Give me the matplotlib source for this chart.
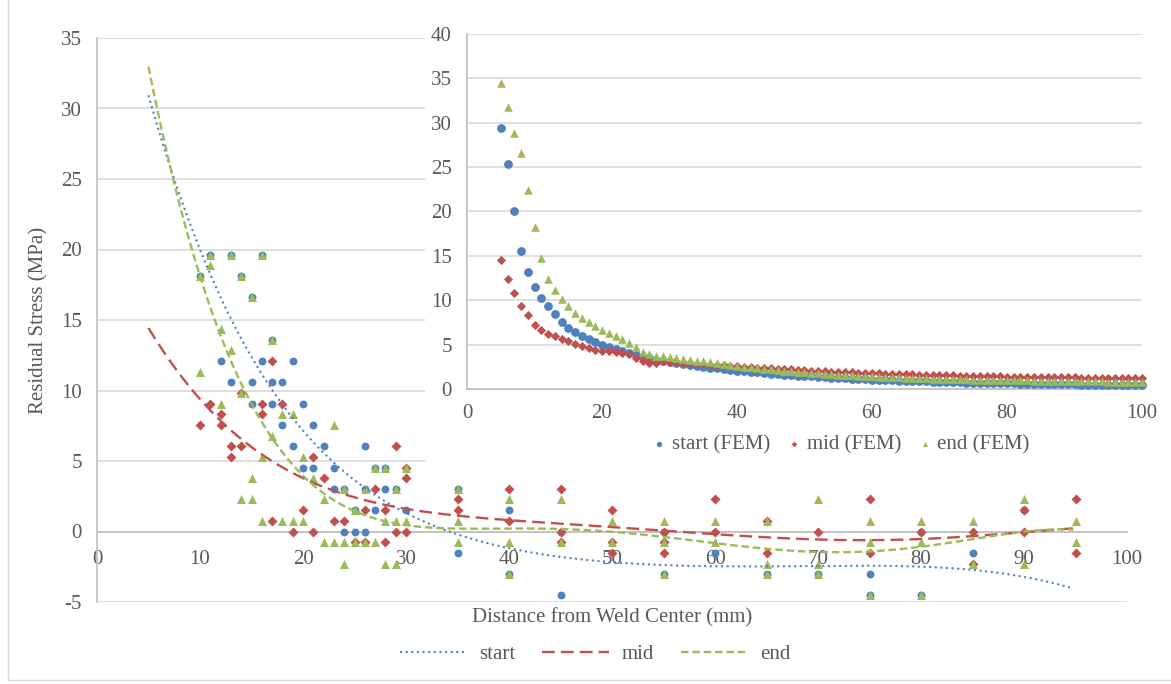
import numpy as np
import matplotlib
matplotlib.use("Agg")
import matplotlib.pyplot as plt
from matplotlib.lines import Line2D
from matplotlib.patches import Rectangle
from numpy.polynomial import Polynomial

plt.rcParams['font.family'] = ['Liberation Serif', 'DejaVu Serif']
plt.rcParams['font.size'] = 15
plt.rcParams['axes.unicode_minus'] = False

BLUE = '#4F81BD'
RED = '#C0504D'
GREEN = '#9BBB59'
TEXT = '#595959'
GRID = '#D9D9D9'
AXIS = '#BFBFBF'

# ---- measured residual stress (MPa) vs distance from weld center (mm) ----
start_x = [11, 13, 16, 10, 14, 15, 17, 12, 16, 19, 13, 15, 17, 18, 15, 17, 20,
           18, 21, 19, 22, 26, 20, 21, 23, 27, 28, 23, 24, 26, 28, 29, 25, 27, 30,
           24, 25, 26, 35, 35, 40, 40, 45, 45, 55, 55, 60, 65, 70, 75, 75, 80, 80,
           85, 90]
start_y = [19.63, 19.63, 19.63, 18.12, 18.12, 16.61, 13.59, 12.08, 12.08, 12.08,
           10.57, 10.57, 10.57, 10.57, 9.06, 9.06, 9.06, 7.55, 7.55, 6.04, 6.04,
           6.04, 4.53, 4.53, 4.53, 4.53, 4.53, 3.02, 3.02, 3.02, 3.02, 3.02, 1.51,
           1.51, 1.51, 0.0, 0.0, 0.0, 3.02, -1.51, 1.51, -3.02, 0.0, -4.53, 0.0,
           -3.02, -1.51, -3.02, -3.02, -3.02, -4.53, 0.0, -4.53, -1.51, 1.51]

mid_x = [17, 14, 11, 16, 18, 12, 16, 10, 12, 13, 14, 29, 13, 21, 22, 30, 30, 27,
         20, 26, 28, 17, 23, 24, 19, 21, 29, 30, 25, 26, 28, 35, 35, 40, 40, 45,
         45, 45, 50, 50, 50, 55, 55, 55, 60, 60, 65, 65, 70, 75, 75, 80, 85, 85,
         90, 90, 95, 95]
mid_y = [12.08, 9.82, 9.06, 9.06, 9.06, 8.31, 8.31, 7.55, 7.55, 6.04, 6.04, 6.04,
         5.29, 5.29, 3.78, 3.78, 4.53, 3.02, 1.51, 1.51, 1.51, 0.76, 0.76, 0.76,
         0.0, 0.0, 0.0, 0.0, -0.76, -0.76, -0.76, 2.27, 1.51, 3.02, 0.76, 3.02,
         0.0, -0.76, 1.51, -0.76, -1.51, 0.0, -0.76, -1.51, 2.27, 0.0, 0.76,
         -1.51, 0.0, 2.27, -1.51, 0.0, 0.0, -2.27, 1.51, 0.0, 2.27, -1.51]

end_x = [11, 13, 16, 11, 10, 14, 15, 12, 17, 13, 10, 14, 12, 18, 19, 23, 17, 16,
         20, 15, 21, 14, 15, 22, 16, 18, 19, 20, 22, 23, 24, 26, 29, 25, 27, 28,
         30, 28, 29, 30, 24, 25, 26, 27, 24, 28, 29, 35, 35, 35, 40, 40, 40, 45,
         45, 50, 50, 55, 55, 55, 60, 60, 65, 65, 65, 70, 70, 70, 75, 75, 75, 80,
         80, 80, 85, 85, 90, 90, 95, 95]
end_y = [19.63, 19.63, 19.63, 18.88, 18.12, 18.12, 16.61, 14.35, 13.59, 12.84,
         11.33, 9.82, 9.06, 8.31, 8.31, 7.55, 6.8, 5.29, 5.29, 3.78, 3.78, 2.27,
         2.27, 2.27, 0.76, 0.76, 0.76, 0.76, -0.76, -0.76, 3.02, 3.02, 3.02, 1.51,
         4.53, 4.53, 4.53, 0.76, 0.76, 0.76, -0.76, -0.76, -0.76, -0.76, -2.27,
         -2.27, -2.27, 3.02, 0.76, -0.76, 2.27, -0.76, -3.02, 2.27, -0.76, 0.76,
         -0.76, 0.76, -0.76, -3.02, 0.76, -0.76, 0.76, -2.27, -3.02, 2.27, -2.27,
         -3.02, 0.76, -0.76, -4.53, 0.76, -0.76, -4.53, 0.76, -2.27, 2.27, -2.27,
         0.76, -0.76]

# ---- polynomial trend curves (sampled) ----
start_trend_x = [5, 6.6, 9, 11.8, 14.5, 17, 19.7, 22.9, 26.2, 29.4, 34.6, 39.1,
                 46.9, 56.6, 66.3, 76, 83.8, 89.6, 94.6]
start_trend_y = [30.8, 27.1, 22.3, 16.4, 12.9, 10.3, 7.46, 4.9, 3.0, 1.56, 0.0,
                 -1.28, -1.85, -2.4, -2.5, -2.45, -2.6, -3.2, -4.0]
mid_trend_x = [5, 7.1, 9.35, 14, 18.7, 23.6, 29.4, 34.6, 42.4, 50, 56.6, 63,
               69.5, 76, 80, 85, 90, 94.8]
mid_trend_y = [14.4, 12.2, 9.85, 6.5, 4.27, 2.86, 1.68, 1.09, 0.62, 0.38, 0.0,
               -0.33, -0.57, -0.6, -0.57, -0.33, 0.0, 0.2]
end_trend_x = [5, 6.8, 9, 11.9, 14.2, 17, 20, 22.9, 26.2, 29.4, 32.6, 39.1,
               48.8, 56.6, 63, 69.5, 76, 80, 85, 90, 94.8]
end_trend_y = [33.0, 27.1, 20.0, 14.3, 10.0, 6.75, 4.04, 2.5, 1.09, 0.38, 0.14,
               0.14, 0.1, -0.33, -1.16, -1.5, -1.47, -1.04, -0.4, -0.1, 0.14]

# ---- FEM results ----
fem_x = list(range(5, 101))
fem_start = [29.4, 25.3, 20.0, 15.6, 13.2, 11.5, 10.2, 9.3, 8.4, 7.5, 6.9, 6.4,
             6.0, 5.65, 5.3, 5.0, 4.75, 4.5, 4.25, 4.0, 3.8, 3.6, 3.45, 3.3, 3.15,
             3.0, 2.9, 2.8, 2.7, 2.6, 2.5, 2.4, 2.32, 2.24, 2.16, 2.08, 2.0, 1.93,
             1.86, 1.8, 1.74, 1.68, 1.62, 1.57, 1.52, 1.47, 1.42, 1.38, 1.33, 1.29,
             1.25, 1.21, 1.17, 1.14, 1.1, 1.07, 1.04, 1.01, 0.98, 0.95, 0.92, 0.9,
             0.87, 0.85, 0.83, 0.81, 0.79, 0.77, 0.75, 0.73, 0.71, 0.7, 0.68, 0.66,
             0.65, 0.63, 0.62, 0.6, 0.59, 0.58, 0.56, 0.55, 0.54, 0.53, 0.52, 0.51,
             0.5, 0.49, 0.48, 0.47, 0.46, 0.45, 0.44, 0.43, 0.42, 0.41]
fem_mid = [14.5, 12.4, 10.8, 9.4, 8.3, 7.2, 6.6, 6.25, 5.95, 5.65, 5.4, 5.1, 4.9,
           4.65, 4.45, 4.3, 4.3, 4.2, 4.1, 3.9, 3.5, 3.2, 2.95, 2.95, 3.1, 3.05,
           3.0, 2.95, 2.9, 2.85, 2.8, 2.75, 2.7, 2.65, 2.6, 2.55, 2.5, 2.45, 2.4,
           2.36, 2.32, 2.28, 2.24, 2.2, 2.16, 2.12, 2.08, 2.04, 2.0, 1.97, 1.94,
           1.91, 1.88, 1.85, 1.82, 1.79, 1.76, 1.73, 1.71, 1.69, 1.67, 1.65, 1.63,
           1.61, 1.59, 1.57, 1.55, 1.53, 1.51, 1.49, 1.47, 1.45, 1.43, 1.42, 1.41,
           1.4, 1.39, 1.38, 1.37, 1.36, 1.35, 1.34, 1.33, 1.32, 1.31, 1.3, 1.29,
           1.28, 1.27, 1.26, 1.25, 1.24, 1.23, 1.22, 1.21, 1.2]
fem_end = [34.5, 31.8, 28.9, 26.6, 22.4, 18.2, 14.8, 12.4, 11.2, 10.1, 9.3, 8.6,
           8.0, 7.5, 7.1, 6.7, 6.35, 6.0, 5.6, 5.2, 4.7, 4.2, 3.9, 3.75, 3.7, 3.6,
           3.5, 3.4, 3.3, 3.2, 3.1, 3.0, 2.9, 2.8, 2.7, 2.6, 2.52, 2.44, 2.36, 2.28,
           2.2, 2.13, 2.06, 1.99, 1.93, 1.87, 1.81, 1.76, 1.71, 1.66, 1.61, 1.57,
           1.53, 1.49, 1.45, 1.42, 1.39, 1.36, 1.33, 1.3, 1.27, 1.24, 1.22, 1.2,
           1.18, 1.16, 1.14, 1.12, 1.1, 1.08, 1.06, 1.04, 1.03, 1.02, 1.0, 0.99,
           0.98, 0.97, 0.96, 0.95, 0.94, 0.93, 0.92, 0.91, 0.9, 0.89, 0.88, 0.87,
           0.86, 0.85, 0.84, 0.83, 0.82, 0.81, 0.8, 0.8]

W, H = 1171, 684
fig = plt.figure(figsize=(W / 100, H / 100), dpi=100)


def fx(px):
    return px / W


def fy(py):
    return 1 - py / H


# ---------------- main chart ----------------
ax = fig.add_axes([fx(97), fy(602), fx(1127) - fx(97), fy(38) - fy(602)])
ax.set_xlim(0, 100)
ax.set_ylim(-5, 35)
ax.set_xticks(np.arange(0, 101, 10))
ax.set_yticks(np.arange(-5, 36, 5))
ax.grid(axis='y', color=GRID, linewidth=1.2)
ax.set_axisbelow(True)
for s in ('top', 'right'):
    ax.spines[s].set_visible(False)
ax.spines['bottom'].set_position(('data', 0))
ax.spines['bottom'].set_color(AXIS)
ax.spines['left'].set_color(AXIS)
ax.spines['bottom'].set_linewidth(1.2)
ax.spines['left'].set_linewidth(1.2)
ax.tick_params(axis='both', length=0, colors=TEXT, labelsize=15)
ax.tick_params(axis='x', pad=13)
ax.tick_params(axis='y', pad=11)

ax.scatter(start_x, start_y, s=32, marker='o', color=BLUE, linewidths=0, zorder=3)
ax.scatter(mid_x, mid_y, s=26, marker='D', color=RED, linewidths=0, zorder=3)
ax.scatter(end_x, end_y, s=42, marker='^', color=GREEN, linewidths=0, zorder=3)

start_style = dict(color=BLUE, linewidth=1.5, linestyle=(0, (1, 1.7)))
mid_style = dict(color=RED, linewidth=1.7, linestyle=(0, (5.4, 2.6)))
end_style = dict(color=GREEN, linewidth=1.7, linestyle=(0, (3.2, 1.6)))

for tx, ty, style in ((start_trend_x, start_trend_y, start_style),
                      (mid_trend_x, mid_trend_y, mid_style),
                      (end_trend_x, end_trend_y, end_style)):
    poly = Polynomial.fit(tx, ty, 6)
    xx = np.linspace(min(tx), max(tx), 400)
    ax.plot(xx, poly(xx), zorder=4, **style)

fig.text(fx(612), fy(618), 'Distance from Weld Center (mm)', ha='center',
         va='center', color=TEXT, fontsize=15)
fig.text(fx(39), fy(320), 'Residual Stress (MPa)', ha='center', va='center',
         rotation=90, color=TEXT, fontsize=15)

handles = [Line2D([], [], **start_style), Line2D([], [], **mid_style),
           Line2D([], [], **end_style)]
fig.legend(handles, ['start', 'mid', 'end'], ncol=3, frameon=False,
           loc='center', bbox_to_anchor=(fx(595), fy(654)),
           handlelength=3.2, handletextpad=0.6, columnspacing=1.3,
           labelcolor=TEXT, fontsize=15)

# ---------------- FEM inset ----------------
fig.patches.append(Rectangle((fx(425), fy(474)), fx(1166) - fx(425),
                             fy(12) - fy(474), transform=fig.transFigure,
                             facecolor='white', edgecolor='none', zorder=1))

ins = fig.add_axes([fx(467), fy(389), fx(1142) - fx(467), fy(34) - fy(389)],
                   zorder=2)
ins.set_facecolor('none')
ins.set_xlim(0, 100)
ins.set_ylim(0, 40)
ins.set_xticks(np.arange(0, 101, 20))
ins.set_yticks(np.arange(0, 41, 5))
ins.grid(axis='y', color=GRID, linewidth=1.2)
ins.set_axisbelow(True)
for s in ('top', 'right'):
    ins.spines[s].set_visible(False)
for s in ('bottom', 'left'):
    ins.spines[s].set_color(AXIS)
    ins.spines[s].set_linewidth(1.2)
ins.tick_params(axis='both', length=0, colors=TEXT, labelsize=15)
ins.tick_params(axis='x', pad=11)
ins.tick_params(axis='y', pad=11)

ins.scatter(fem_x, fem_start, s=40, marker='o', color=BLUE, linewidths=0,
            label='start (FEM)', zorder=3, clip_on=False)
ins.scatter(fem_x, fem_mid, s=22, marker='D', color=RED, linewidths=0,
            label='mid (FEM)', zorder=3, clip_on=False)
ins.scatter(fem_x, fem_end, s=38, marker='^', color=GREEN, linewidths=0,
            label='end (FEM)', zorder=3, clip_on=False)

leg = ins.legend(ncol=3, frameon=False, loc='center',
                 bbox_to_anchor=(fx(842), fy(445)),
                 bbox_transform=fig.transFigure, handlelength=0.5,
                 handletextpad=0.35, columnspacing=0.9, markerscale=0.6,
                 labelcolor=TEXT, fontsize=15)

# chart border
fig.patches.append(Rectangle((fx(8), fy(680)), 1.2, 1.2,
                             transform=fig.transFigure, facecolor='none',
                             edgecolor=GRID, linewidth=1.0, zorder=0))

fig.savefig('out.png', dpi=100)
